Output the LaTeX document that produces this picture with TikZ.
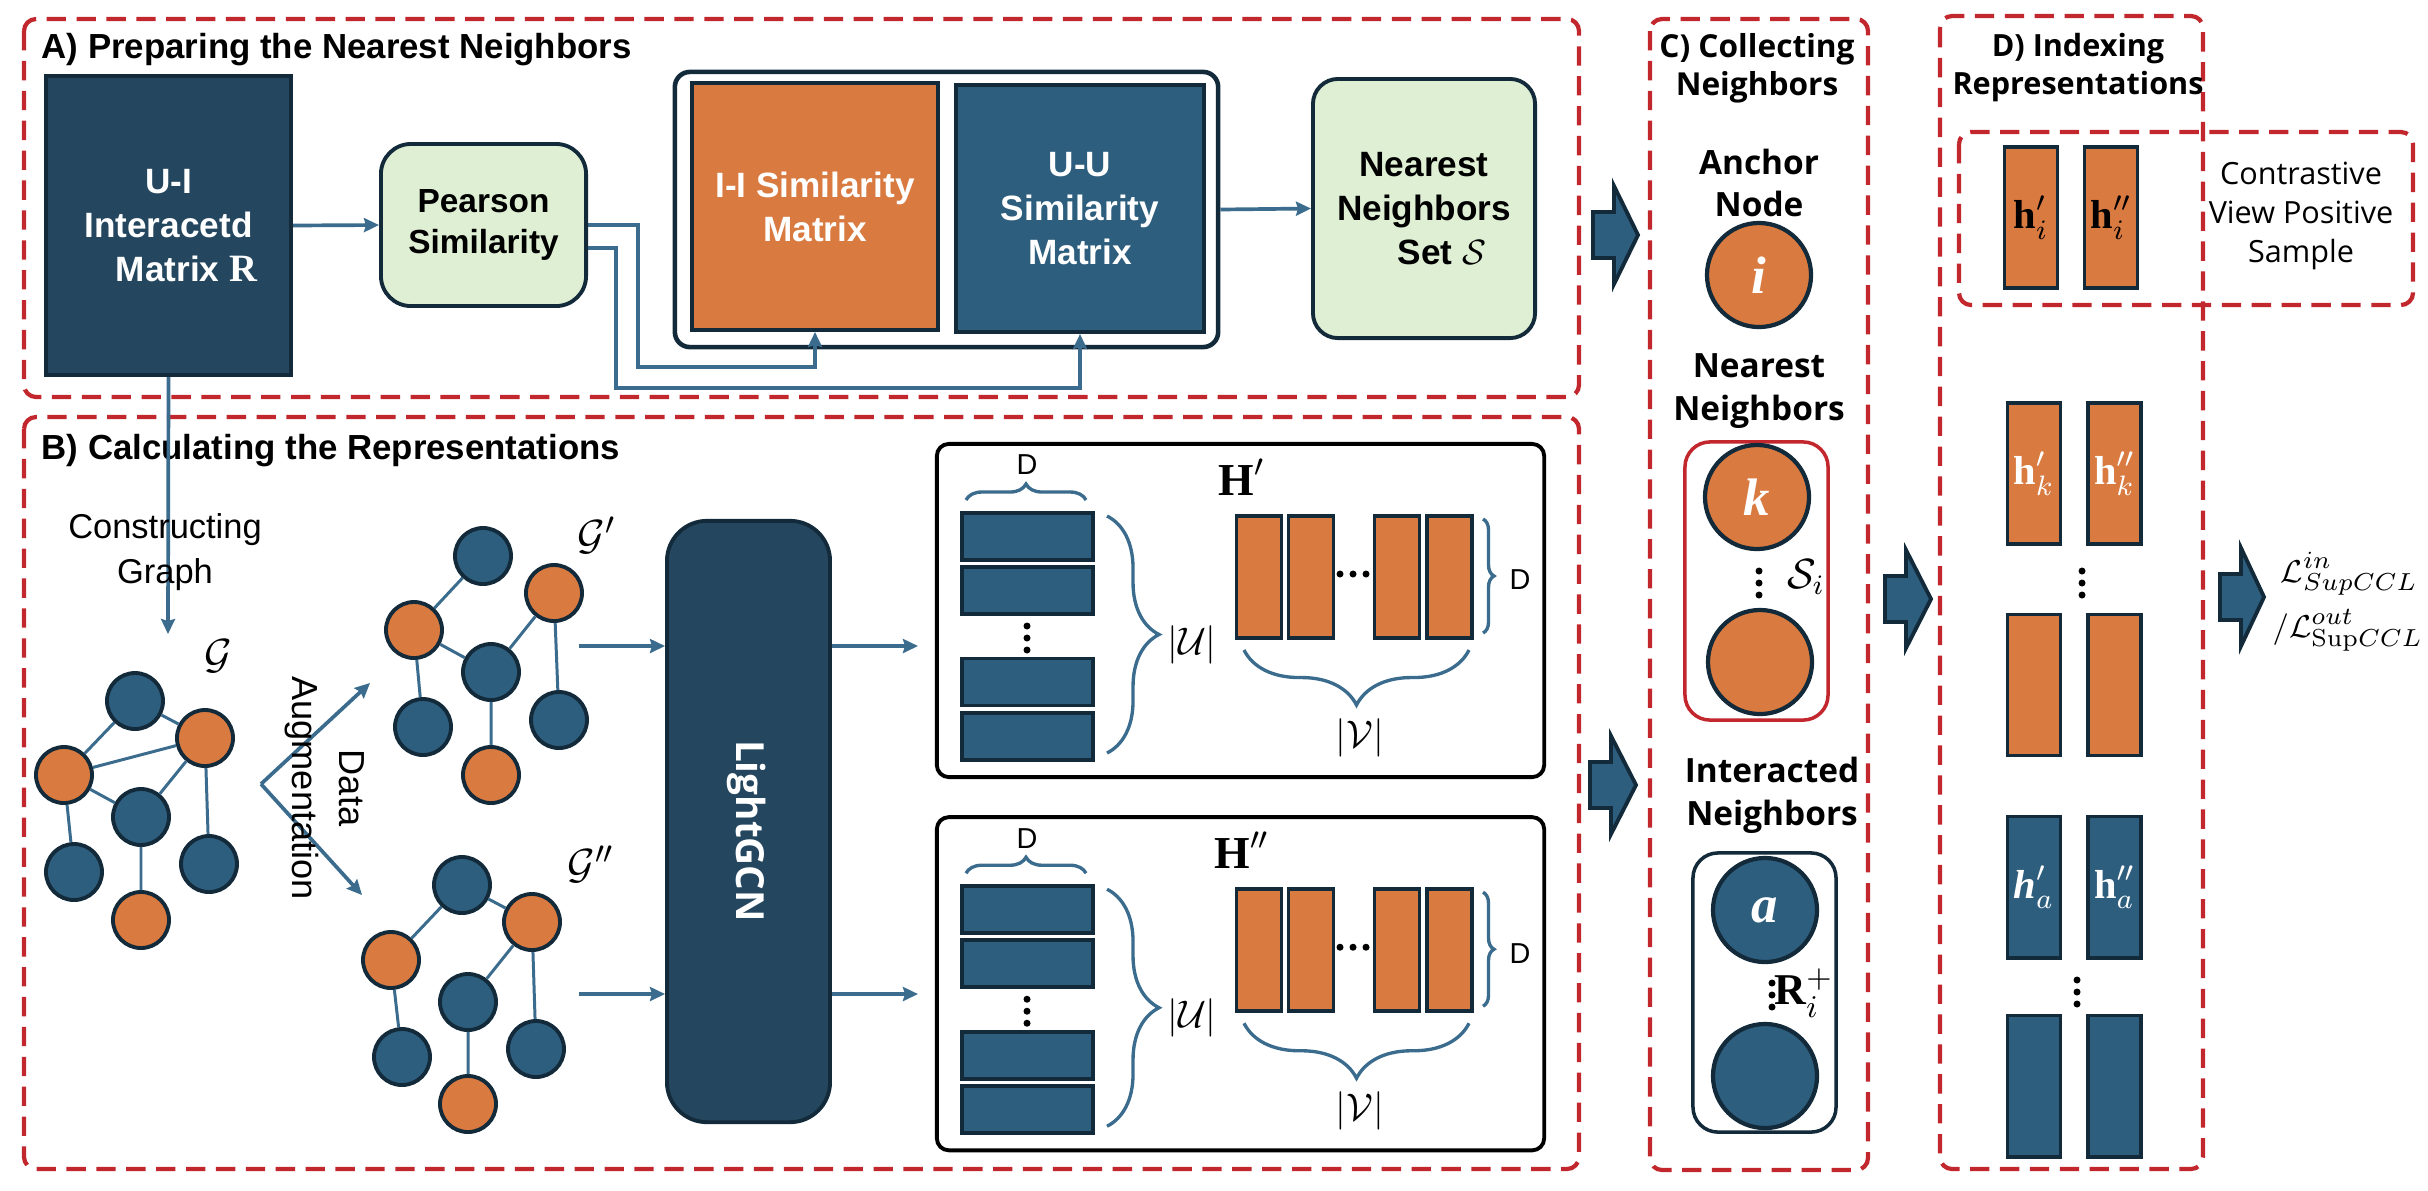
\documentclass[tikz,border=0pt]{standalone}
\usepackage{amsmath}
\usepackage[no-math]{fontspec}
\setmainfont{Liberation Sans}
\newfontfamily\osans{Open Sans}
\newfontfamily\serifb{Liberation Serif}
\newcommand\sbf[1]{\text{\serifb\bfseries #1}}
\newcommand\sbi[1]{\text{\serifb\bfseries\itshape #1}}
\usetikzlibrary{calc,arrows.meta,decorations.pathreplacing}
\definecolor{cOrange}{HTML}{D97A40}
\definecolor{cBlue}{HTML}{2E5E7E}
\definecolor{cNavy}{HTML}{24475F}
\definecolor{cEdge}{HTML}{132A3A}
\definecolor{cGreen}{HTML}{DEEFD4}
\definecolor{cRed}{HTML}{C1272D}
\definecolor{cLine}{HTML}{3B6C8E}
\newcommand\barrow[3]{\draw[fill=cBlue, draw=cEdge, line width=1.1pt, line join=miter] (#1,#3-23) -- (#1+21,#3-23) -- (#1+21,#3-49) -- (#2,#3) -- (#1+21,#3+49) -- (#1+21,#3+23) -- (#1,#3+23) -- cycle;}
\newcommand\vdotsat[2]{\fill (#1,#2-12) circle (0.035cm) (#1,#2) circle (0.035cm) (#1,#2+12) circle (0.035cm);}
\newcommand\hdotsat[2]{\fill (#1-13,#2) circle (0.035cm) (#1,#2) circle (0.035cm) (#1+13,#2) circle (0.035cm);}
\tikzset{
 panel/.style={draw=cRed, line width=1.2pt, dash pattern=on 5.5pt off 3pt, rounded corners=0.12cm},
 conn/.style={draw=cLine, line width=1.05pt},
 gedge/.style={draw=cLine, line width=0.85pt},
 gb/.style={circle, minimum size=0.56cm, inner sep=0pt, fill=cBlue, draw=cEdge, line width=1.1pt},
 go/.style={gb, fill=cOrange},
 mbox/.style={draw=cEdge, line width=1.1pt, inner sep=0pt, align=center},
 atxt/.style={font=\bfseries\fontsize{10}{12.5}\selectfont, align=center},
 ttl/.style={font=\bfseries\fontsize{9.9}{12}\selectfont, anchor=base west, inner sep=0pt},
 rtxt/.style={font=\fontsize{9.8}{12.8}\selectfont, align=center, inner sep=0pt},
 hbox/.style={draw=black, line width=1.1pt, rounded corners=0.12cm, minimum width=6.07cm, minimum height=3.33cm, inner sep=0pt},
 urow/.style={fill=cBlue, draw=cEdge, line width=1.1pt, minimum width=1.31cm, minimum height=0.47cm, inner sep=0pt},
 vcol/.style={fill=cOrange, draw=cEdge, line width=1.1pt, minimum width=0.45cm, minimum height=1.22cm, inner sep=0pt},
 bracestyle/.style={decorate, draw=cLine, line width=0.95pt},
 dlabel/.style={font=\fontsize{8.2}{9}\selectfont, inner sep=0pt},
 mlabel/.style={font=\fontsize{11}{13}\selectfont, inner sep=0pt},
 hlabel/.style={font=\fontsize{13}{15}\selectfont, inner sep=0pt},
 ctitle/.style={font=\osans\bfseries\fontsize{9}{10.8}\selectfont, align=center, inner sep=0pt},
 ctext/.style={font=\osans\bfseries\fontsize{9.5}{12.2}\selectfont, align=center, inner sep=0pt},
 cnodeO/.style={circle, minimum size=1.04cm, inner sep=0pt, fill=cOrange, draw=cEdge, line width=1.2pt, text=white, font=\fontsize{15}{17}\selectfont},
 cnodeB/.style={cnodeO, fill=cBlue},
 hrectO/.style={fill=cOrange, draw=cEdge, line width=1.1pt, minimum width=0.53cm, minimum height=1.41cm, inner sep=0pt, font=\fontsize{11.5}{13}\selectfont},
 hrectB/.style={hrectO, fill=cBlue, text=white},
 losstxt/.style={anchor=west, font=\fontsize{9.3}{11}\selectfont, inner sep=0pt},
}
\newcommand\hpanel[3]{%
\begin{scope}[yshift=#2]
\node[hbox] (#1box) at (1240.5,610.5) {};
\node[dlabel] (#1dt) at (1027,465) {D};
\draw[bracestyle,decoration={brace,amplitude=0.16cm}] (966,500) -- (1086,500);
\foreach \yy/\nn in {536.5/1,590.5/2,682/3,736.5/4} {\node[urow] (#1u\nn) at (1027.5,\yy) {};}
\vdotsat{1027}{638}
\draw[bracestyle,decoration={brace,amplitude=0.52cm}] (1107,516) -- (1107,753);
\node[mlabel] (#1ul) at (1192,645) {\(|\mathcal{U}|\)};
\node[hlabel] (#1hl) at (1242,477) {#3};
\foreach \xx/\nn in {1259/1,1311/2,1397/3,1449.5/4} {\node[vcol] (#1v\nn) at (\xx,577) {};}
\hdotsat{1353}{574}
\draw[bracestyle,decoration={brace,amplitude=0.11cm}] (1483,519) -- (1483,633);
\node[dlabel] (#1dr) at (1520,580) {D};
\draw[bracestyle,decoration={brace,amplitude=0.55cm}] (1469,650) -- (1244,650);
\node[mlabel] (#1vl) at (1360,738) {\(|\mathcal{V}|\)};
\end{scope}}
\begin{document}
\begin{tikzpicture}[x=0.01cm,y=-0.01cm, >={Stealth[length=0.15cm,width=0.14cm,inset=0.02cm]}]
\useasboundingbox (0,0) rectangle (2428,1190);
% panels
\draw[panel] (24,19) rectangle (1579,397);
\draw[panel] (24,417) rectangle (1579,1169);
\draw[panel] (1650,19) rectangle (1868,1170);
\draw[panel] (1940,16) rectangle (2203,1169);
\draw[panel] (1959,132) rectangle (2413,305);
\node[ttl] (tA) at (41,58) {A) Preparing the Nearest Neighbors};
\node[ttl] (tB) at (41,459) {B) Calculating the Representations};
% panel A
\node[mbox, fill=cNavy, text=white, atxt, minimum width=2.45cm, minimum height=2.99cm] (ui) at (168.5,225.5) {U-I\\Interacetd\\\hspace*{0.36cm}Matrix {\serifb\fontsize{11}{12}\selectfont R}};
\node[mbox, fill=cGreen, rounded corners=0.3cm, atxt, font=\bfseries\fontsize{9.5}{11.4}\selectfont, minimum width=2.05cm, minimum height=1.62cm] (pear) at (483.5,225) {Pearson\\Similarity};
\node[mbox, fill=white, line width=1.3pt, rounded corners=0.15cm, minimum width=5.43cm, minimum height=2.75cm] (cont) at (946.5,209.5) {};
\node[mbox, fill=cOrange, text=white, atxt, minimum width=2.46cm, minimum height=2.47cm] (ii) at (815,206.5) {I-I Similarity\\Matrix};
\node[mbox, fill=cBlue, text=white, atxt, minimum width=2.48cm, minimum height=2.47cm] (uu) at (1080,208.5) {U-U\\Similarity\\Matrix};
\node[mbox, fill=cGreen, rounded corners=0.25cm, atxt, minimum width=2.22cm, minimum height=2.59cm] (nn) at (1424,208.5) {Nearest\\Neighbors\\\hspace*{0.36cm}Set \(\mathcal{S}\)};
\coordinate (p1) at (638,367);
\coordinate (p2) at (616,388);
\draw[conn,->] (ui.east) -- (pear.west);
\draw[conn,->] (pear.east) -| (p1) -| (ii.south);
\draw[conn,->] ($(pear.east)+(0,23)$) -| (p2) -| (uu.south);
\draw[conn,->] (cont.east) -- (nn.west);
% panel B: graph construction
\coordinate (gin) at (168,634);
\draw[conn,->] (ui.south) -- (gin);
\node[rtxt] (cg) at (165,552) {Constructing\\Graph};
\node[mlabel, font=\fontsize{13}{15}\selectfont] (lg) at (218,656) {\(\mathcal{G}\)};
\node[gb] (g1) at (135,701) {};
\node[go] (g2) at (205,738) {};
\node[go] (g3) at (64,775) {};
\node[gb] (g4) at (141,817) {};
\node[gb] (g5) at (74,872) {};
\node[gb] (g6) at (209,864) {};
\node[go] (g7) at (141,920) {};
\draw[gedge] (g1) -- (g2) (g1) -- (g3) (g3) -- (g2) (g2) -- (g4) (g3) -- (g4) (g3) -- (g5) (g4) -- (g7) (g2) -- (g6);
\coordinate (aug) at (261,784);
\coordinate (augu) at (370,683);
\coordinate (augd) at (362,895);
\draw[conn,->] (aug) -- (augu);
\draw[conn,->] (aug) -- (augd);
\node[rtxt, rotate=-90, font=\fontsize{10.3}{13.4}\selectfont] (da) at (325,788) {Data\\Augmentation};
\node[mlabel, font=\fontsize{13}{15}\selectfont] (lgp) at (597,535) {\(\mathcal{G}'\)};
\node[gb] (a1) at (483,556) {};
\node[go] (a2) at (554,593) {};
\node[go] (a3) at (414,630) {};
\node[gb] (a4) at (491,672) {};
\node[gb] (a5) at (423,727) {};
\node[gb] (a6) at (559,720) {};
\node[go] (a7) at (491,775) {};
\draw[gedge] (a1) -- (a3) (a3) -- (a4) (a4) -- (a2) (a3) -- (a5) (a4) -- (a7) (a2) -- (a6);
\node[mlabel, font=\fontsize{13}{15}\selectfont] (lgpp) at (591,864) {\(\mathcal{G}''\)};
\node[gb] (b1) at (462,885) {};
\node[go] (b2) at (532,922) {};
\node[go] (b3) at (391,960) {};
\node[gb] (b4) at (468,1002) {};
\node[gb] (b5) at (402,1057) {};
\node[gb] (b6) at (536,1049) {};
\node[go] (b7) at (468,1104) {};
\draw[gedge] (b1) -- (b2) (b1) -- (b3) (b2) -- (b4) (b3) -- (b5) (b4) -- (b7) (b2) -- (b6);
% LightGCN
\node[mbox, fill=cNavy, rounded corners=0.4cm, minimum width=1.63cm, minimum height=6.01cm] (lgcn) at (748.5,821.5) {};
\node[rotate=-90, text=white, font=\osans\bfseries\fontsize{11}{13}\selectfont, inner sep=0pt] (lgcnt) at (747,831) {LightGCN};
\coordinate (gpo) at (579,646);
\coordinate (gppo) at (579,994);
\coordinate (hpi) at (918,646);
\coordinate (hppi) at (918,994);
\draw[conn,->] (gpo) -- (gpo -| lgcn.west);
\draw[conn,->] (gppo) -- (gppo -| lgcn.west);
\draw[conn,->] (lgcn.east |- gpo) -- (hpi);
\draw[conn,->] (lgcn.east |- gppo) -- (hppi);
% H panels
\hpanel{hp}{0cm}{\(\sbf{H}'\)}
\hpanel{hpp}{-3.73cm}{\(\sbf{H}''\)}
% block arrows
\barrow{1593}{1638}{235}
\barrow{1590}{1636}{785}
\barrow{1885}{1931}{599}
\barrow{2220}{2264}{597}
% panel C
\node[ctitle] (tC) at (1757,68) {C) Collecting\\Neighbors};
\node[ctext] (anc) at (1759,183) {Anchor\\Node};
\node[cnodeO] (ci) at (1759,275) {\(\sbi{i}\)};
\node[ctext] (nnt) at (1759,391) {Nearest\\Neighbors};
\node[draw=cRed, line width=1pt, rounded corners=0.25cm, minimum width=1.43cm, minimum height=2.78cm, inner sep=0pt] (sbox) at (1756.5,581) {};
\node[cnodeO] (ck) at (1757,497) {\(\sbi{k}\)};
\node[cnodeO] (ck2) at (1760,662) {};
\vdotsat{1759}{583}
\node[mlabel, font=\fontsize{12}{14}\selectfont] (si) at (1806,577) {\(\mathcal{S}_i\)};
\node[ctext] (int) at (1772,795) {Interacted\\Neighbors};
\node[draw=cEdge, line width=1pt, rounded corners=0.25cm, minimum width=1.43cm, minimum height=2.79cm, inner sep=0pt] (rbox) at (1764.5,992.5) {};
\node[cnodeB] (ca) at (1765,910) {\(\sbi{a}\)};
\node[cnodeB] (ca2) at (1765,1076) {};
\vdotsat{1772}{995}
\node[mlabel, font=\fontsize{12.5}{14}\selectfont] (ri) at (1804,993) {\(\sbf{R}_i^+\)};
% panel D
\node[ctitle, font=\osans\bfseries\fontsize{8.7}{10.8}\selectfont] (tD) at (2078,68) {D) Indexing\\Representations};
\node[hrectO] (hi1) at (2031,217.5) {\(\sbf{h}'_i\)};
\node[hrectO] (hi2) at (2111,217.5) {\(\sbf{h}''_i\)};
\node[font=\osans\fontsize{8.7}{11.1}\selectfont, align=center, inner sep=0pt] (cvp) at (2301,216) {Contrastive\\View Positive\\Sample};
\node[hrectO, text=white] (hk1) at (2034,473.5) {\(\sbf{h}'_k\)};
\node[hrectO, text=white] (hk2) at (2114.5,473.5) {\(\sbf{h}''_k\)};
\vdotsat{2082}{583}
\node[hrectO] (ho1) at (2034,685) {};
\node[hrectO] (ho2) at (2114.5,685) {};
\node[hrectB] (ha1) at (2034,887) {\(\sbi{h}'_a\)};
\node[hrectB] (ha2) at (2114.5,887) {\(\sbf{h}''_a\)};
\vdotsat{2077}{992}
\node[hrectB] (hb1) at (2034,1086) {};
\node[hrectB] (hb2) at (2114.5,1086) {};
\node[losstxt] (loss1) at (2280,574) {\(\mathcal{L}^{in}_{SupCCL}\)};
\node[losstxt] (loss2) at (2272,630) {\(/\mathcal{L}^{out}_{\mathrm{Sup}CCL}\)};
\end{tikzpicture}
\end{document}
